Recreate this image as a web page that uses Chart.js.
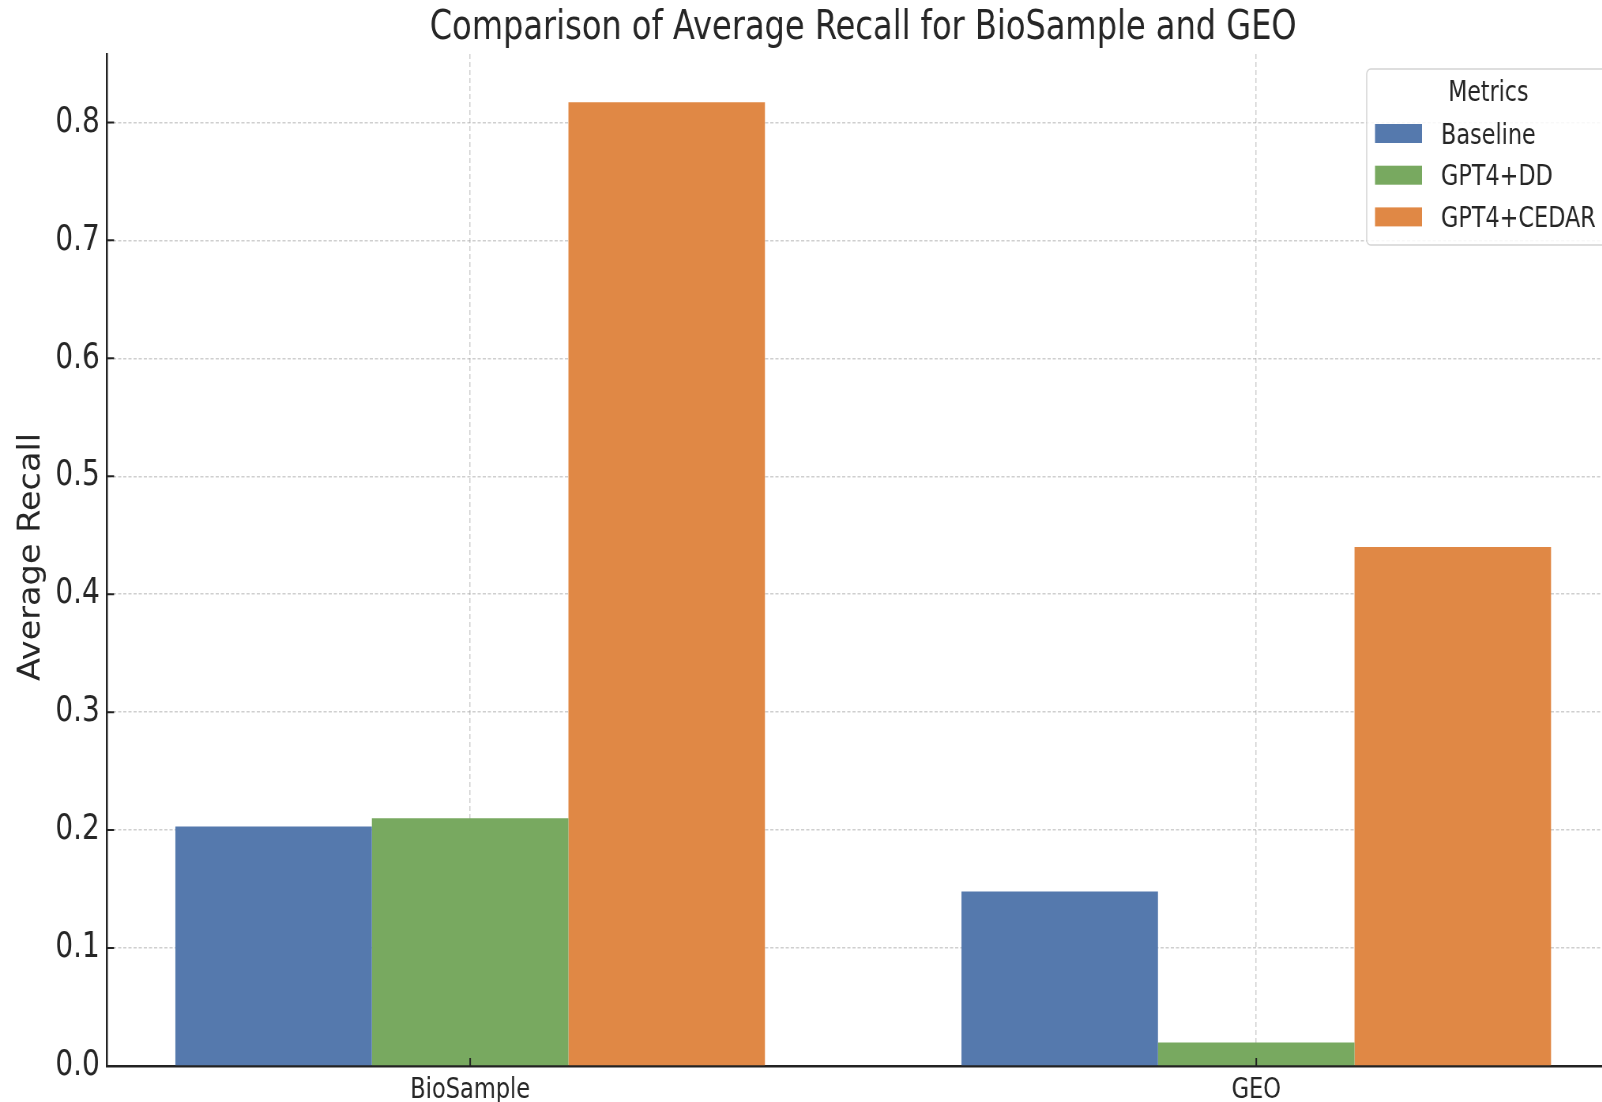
<!DOCTYPE html>
<html>
<head>
<meta charset="utf-8">
<title>Average Recall</title>
<script src="https://cdn.jsdelivr.net/npm/chart.js@4.4.1/dist/chart.umd.min.js"></script>
<style>
  html, body { margin: 0; padding: 0; background: #fff; overflow: hidden; }
  /* the original picture is squeezed sideways, so draw wide and squeeze */
  #wrap { width: 2028px; height: 1102px; transform: scaleX(0.79); transform-origin: 0 0; }
</style>
</head>
<body>
<div id="wrap"><canvas id="recallChart"></canvas></div>
<script>
const categories = ['BioSample', 'GEO'];
const baseline = [0.203, 0.148];
const gpt4dd = [0.210, 0.020];
const gpt4cedar = [0.817, 0.440];
const seriesLabels = ['Baseline', 'GPT4+DD', 'GPT4+CEDAR'];
const seriesColors = ['#5579ad', '#78a960', '#e08845'];
const yTickValues = [0, 0.1, 0.2, 0.3, 0.4, 0.5, 0.6, 0.7, 0.8];
const chartTitle = 'Comparison of Average Recall for BioSample and GEO';
const yTitle = 'Average Recall';
const legendTitle = 'Metrics';

const SQUISH = 0.79;
const FONT = '"DejaVu Sans", sans-serif';
const textColor = '#262626';
const gridColor = 'rgba(160,160,160,0.5)';
const toXY = arr => arr.map((v, i) => ({ x: i, y: v }));

// title, y label, legend box and inward tick marks (matplotlib look)
const decorPlugin = {
  id: 'decor',
  afterDraw(chart) {
    const { ctx, chartArea, scales: { x, y } } = chart;
    ctx.save();
    ctx.fillStyle = textColor;
    ctx.textBaseline = 'alphabetic';

    ctx.font = '40.6px ' + FONT;
    ctx.textAlign = 'center';
    ctx.fillText(chartTitle, x.getPixelForValue(0.5), 39);

    ctx.save();
    ctx.translate(50, (chartArea.top + chartArea.bottom) / 2 - 3);
    ctx.scale(0.9 / SQUISH, 1);
    ctx.rotate(-Math.PI / 2);
    ctx.font = '33.5px ' + FONT;
    ctx.fillText(yTitle, 0, 0);
    ctx.restore();

    // inward ticks
    ctx.strokeStyle = '#222';
    ctx.lineWidth = 2;
    ctx.beginPath();
    yTickValues.forEach(v => {
      const py = y.getPixelForValue(v);
      ctx.moveTo(chartArea.left, py);
      ctx.lineTo(chartArea.left + 9, py);
    });
    categories.forEach((c, i) => {
      const px = x.getPixelForValue(i);
      ctx.moveTo(px, chartArea.bottom);
      ctx.lineTo(px, chartArea.bottom - 8);
    });
    ctx.stroke();

    // legend
    const bx = 1730, by = 69, bw = 420, bh = 176;
    ctx.beginPath();
    ctx.roundRect(bx, by, bw, bh, 5);
    ctx.fillStyle = 'rgba(255,255,255,0.85)';
    ctx.fill();
    ctx.strokeStyle = '#d4d4d4';
    ctx.lineWidth = 1.5;
    ctx.stroke();

    ctx.fillStyle = textColor;
    ctx.font = '28px ' + FONT;
    ctx.textAlign = 'center';
    ctx.fillText(legendTitle, 1884, 101);

    ctx.textAlign = 'left';
    ctx.font = '28.3px ' + FONT;
    chart.data.datasets.forEach((ds, i) => {
      const cy = 133.5 + i * 41.7;
      ctx.fillStyle = ds.backgroundColor;
      ctx.fillRect(1740.5, cy - 9.5, 59.5, 19);
      ctx.fillStyle = textColor;
      ctx.fillText(ds.label, 1824, cy + 10);
    });
    ctx.restore();
  }
};

const ctx_bar = document.getElementById('recallChart').getContext('2d');
const recallChart = new Chart(ctx_bar, {
  type: 'bar',
  data: {
    datasets: [
      { label: seriesLabels[0], data: toXY(baseline), backgroundColor: seriesColors[0] },
      { label: seriesLabels[1], data: toXY(gpt4dd), backgroundColor: seriesColors[1] },
      { label: seriesLabels[2], data: toXY(gpt4cedar), backgroundColor: seriesColors[2] }
    ]
  },
  options: {
    responsive: true,
    maintainAspectRatio: false,
    animation: false,
    layout: { padding: { top: 54, left: 0, right: 0, bottom: 0 } },
    datasets: { bar: { categoryPercentage: 0.75, barPercentage: 1.0, borderWidth: 0 } },
    plugins: {
      legend: { display: false },
      title: { display: false },
      tooltip: { enabled: false }
    },
    scales: {
      x: {
        type: 'linear',
        min: -0.462,
        max: 1.44,
        offset: false,
        z: 1,
        grid: { offset: false, color: gridColor, lineWidth: 1.5, drawTicks: false },
        border: { color: '#222', width: 2.5, dash: [5, 3] },
        ticks: {
          padding: 7,
          color: textColor,
          font: { family: FONT, size: 28.5 },
          maxRotation: 0,
          autoSkip: false,
          callback: (v, i) => categories[i]
        },
        afterBuildTicks: s => { s.ticks = categories.map((c, i) => ({ value: i })); },
        afterFit: s => { s.height = 36; }
      },
      y: {
        min: 0,
        max: 0.858,
        z: 1,
        grid: { color: gridColor, lineWidth: 1.5, drawTicks: false },
        border: { color: '#222', width: 2.5, dash: [4, 2.5] },
        ticks: {
          padding: 9,
          color: textColor,
          font: { family: FONT, size: 35.5 },
          callback: v => v.toFixed(1)
        },
        afterBuildTicks: s => { s.ticks = yTickValues.map(v => ({ value: v })); },
        afterFit: s => { s.width = 135.4; }
      }
    }
  },
  plugins: [decorPlugin]
});
</script>
</body>
</html>
